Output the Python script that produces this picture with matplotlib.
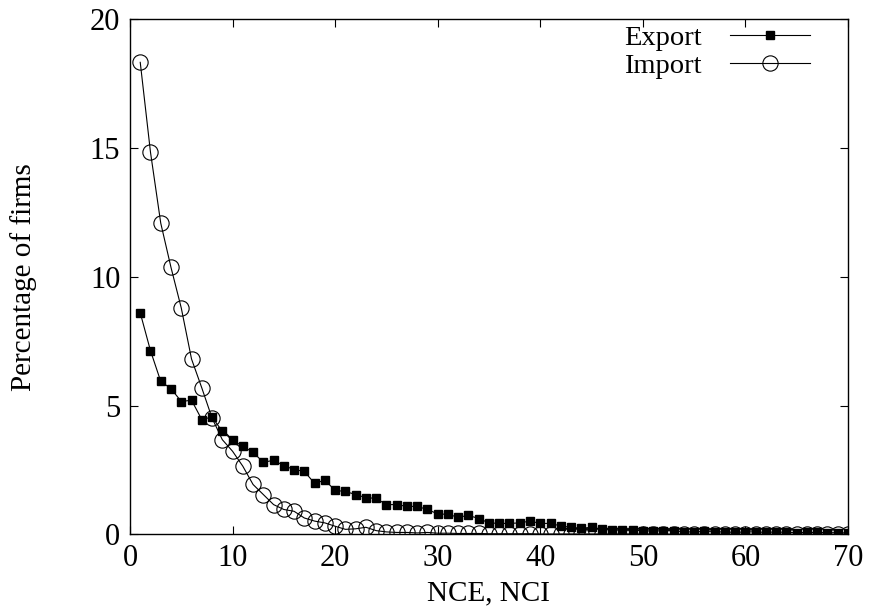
import numpy as np
import matplotlib
matplotlib.use("Agg")
import matplotlib.pyplot as plt

# values (percent of firms for each count 1..70)
nce = np.arange(1, 71)
export = [8.6, 7.13, 5.94, 5.66, 5.16, 5.21, 4.46, 4.56, 4.0, 3.66,
          3.42, 3.19, 2.80, 2.88, 2.67, 2.52, 2.45, 1.98, 2.11, 1.71,
          1.67, 1.55, 1.43, 1.40, 1.16, 1.16, 1.09, 1.09, 0.97, 0.80,
          0.78, 0.67, 0.74, 0.62, 0.45, 0.43, 0.43, 0.45, 0.52, 0.43,
          0.43, 0.33, 0.28, 0.24, 0.28, 0.20, 0.17, 0.17, 0.17, 0.15,
          0.13, 0.15, 0.15, 0.10, 0.10, 0.12, 0.10, 0.10, 0.08, 0.10,
          0.10, 0.08, 0.10, 0.08, 0.07, 0.08, 0.08, 0.07, 0.07, 0.06]
imports = [18.32, 14.83, 12.08, 10.36, 8.79, 6.81, 5.69, 4.52, 3.68, 3.23,
           2.65, 1.94, 1.55, 1.16, 0.97, 0.90, 0.64, 0.52, 0.45, 0.32,
           0.20, 0.22, 0.28, 0.15, 0.10, 0.08, 0.08, 0.06, 0.08, 0.05,
           0.05, 0.04, 0.04, 0.04, 0.03, 0.03, 0.03, 0.03, 0.03, 0.02,
           0.02, 0.02, 0.02, 0.02, 0.02, 0.02, 0.02, 0.02, 0.02, 0.02,
           0.02, 0.02, 0.01, 0.01, 0.01, 0.01, 0.01, 0.01, 0.01, 0.01,
           0.01, 0.01, 0.01, 0.01, 0.01, 0.01, 0.01, 0.01, 0.01, 0.01]

plt.rcParams['font.family'] = ['Liberation Serif', 'DejaVu Serif']

fig = plt.figure(figsize=(8.7, 6.08), dpi=100)
ax = fig.add_axes([0.1494, 0.1209, 0.8253, 0.8478])

ax.plot(nce, export, color='black', lw=0.8, marker='s', ms=5.2,
        mfc='black', mec='black', label='Export')
ax.plot(nce, imports, color='black', lw=0.8, marker='o', ms=11,
        mfc='none', mec='black', mew=0.8, label='Import')

ax.set_xlim(0, 70)
ax.set_ylim(0, 20)
ax.set_xticks(np.arange(0, 71, 10))
ax.set_yticks(np.arange(0, 21, 5))
ax.tick_params(direction='in', top=True, right=True, length=6, width=0.8,
               labelsize=22, pad=7)
for s in ax.spines.values():
    s.set_linewidth(1.0)

ax.set_xlabel("NCE, NCI", fontsize=21, labelpad=5)
ax.set_ylabel("Percentage of firms", fontsize=21, labelpad=38)

ax.legend(loc='upper right', frameon=False, markerfirst=False, fontsize=20.5,
          handlelength=2.8, handletextpad=1.0, labelspacing=0.1,
          borderaxespad=0.0, borderpad=0.2, bbox_to_anchor=(0.955, 1.0))

fig.savefig("out.png", dpi=100)
